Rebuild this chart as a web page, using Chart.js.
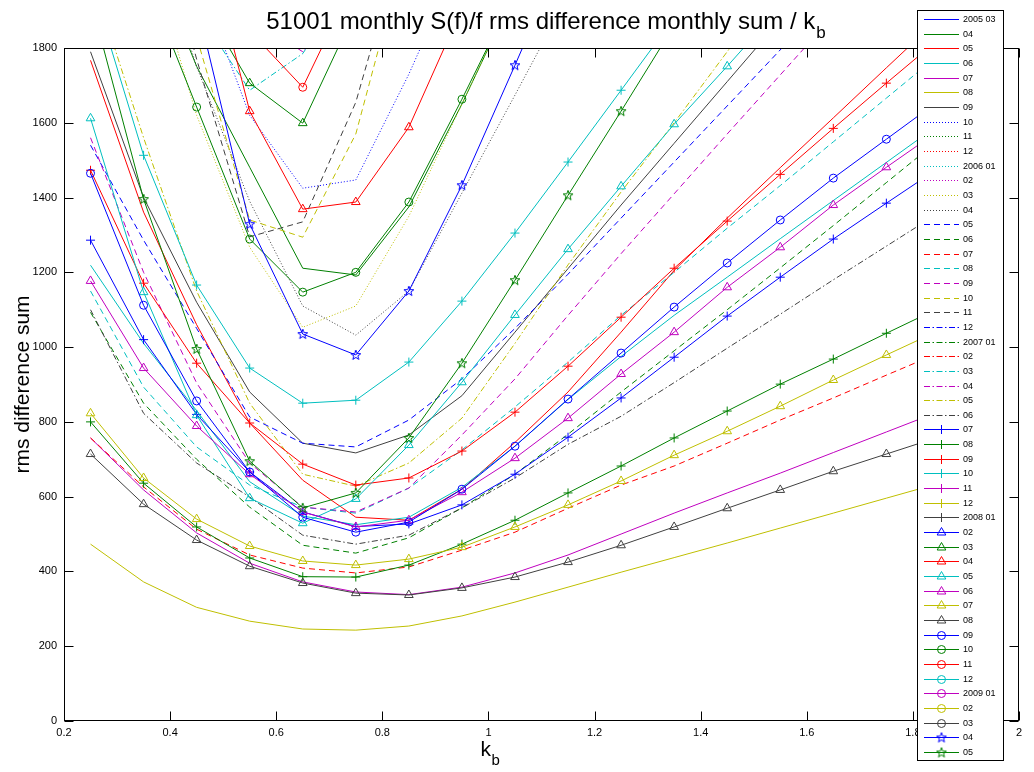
<!DOCTYPE html>
<html><head><meta charset="utf-8">
<script src="https://cdn.jsdelivr.net/npm/chart.js@4/dist/chart.umd.min.js"></script>
<style>html,body{margin:0;padding:0;background:#fff}#wrap{width:1034px;height:772px}</style>
</head><body><div id="wrap"><canvas id="c" width="1034" height="772"></canvas></div>
<script>
// ---- data ----
const kb = [0.25,0.35,0.45,0.55,0.65,0.75,0.85,0.95,1.05,1.15,1.25,1.35,1.45,1.55,1.65,1.75,1.85,1.95];
const xTicks = [0.2,0.4,0.6,0.8,1,1.2,1.4,1.6,1.8,2];
const yTicks = [0,200,400,600,800,1000,1200,1400,1600,1800];
const legendLabels = ['2005 03','04','05','06','07','08','09','10','11','12',
 '2006 01','02','03','04','05','06','07','08','09','10','11','12',
 '2007 01','02','03','04','05','06','07','08','09','10','11','12',
 '2008 01','02','03','04','05','06','07','08','09','10','11','12',
 '2009 01','02','03','04','05'];

const s2005_03 = [4800,4000,3300,2700,2300,2100,2150,2400,2700,3000,3300,3600,3900,4200,4500,4800,5100,5400];
const s2005_04 = [2700,2100,1751,1481,1211,1193,1375,1650,1950,2250,2550,2850,3150,3450,3750,4050,4350,4650];
const s2005_05 = [1767,1361,1060,797,644,545,537,620,745,880,1040,1205,1345,1480,1613,1747,1880,2010];
const s2005_06 = [1219,1010,830,640,548,525,545,625,735,860,975,1085,1187,1290,1392,1494,1596,1698];
const s2005_07 = [757,618,503,422,372,345,338,358,396,444,500,556,610,663,718,773,828,882];
const s2005_08 = [473,372,304,267,246,243,254,281,318,358,398,437,476,516,556,596,636,676];
const s2005_09 = [1790,1400,1120,880,743,717,765,870,1040,1210,1380,1545,1710,1875,2040,2200,2360,2520];
const s2005_10 = [3000,2500,2000,1620,1425,1447,1730,2050,2400,2750,3100,3450,3800,4150,4500,4850,5200,5550];
const s2005_11 = [5200,4300,3500,2800,2400,2300,2500,2900,3300,3700,4100,4500,4900,5300,5700,6100,6500,6900];
const s2005_12 = [5600,4700,3800,3100,2600,2450,2650,3050,3500,3950,4400,4850,5300,5750,6200,6650,7100,7550];
const s2006_01 = [5000,4100,3300,2700,2250,2150,2350,2750,3150,3550,3950,4350,4750,5150,5550,5950,6350,6750];
const s2006_02 = [5400,4500,3700,3000,2500,2350,2550,2950,3400,3850,4300,4750,5200,5650,6100,6550,7000,7450];
const s2006_03 = [2600,2100,1620,1267,1053,1110,1350,1650,1950,2250,2550,2850,3150,3450,3750,4050,4350,4650];
const s2006_04 = [2700,2200,1750,1390,1110,1032,1150,1412,1674,1940,2200,2460,2720,2980,3240,3500,3760,4020];
const s2006_05 = [1540,1286,1050,813,743,733,805,915,1050,1195,1345,1495,1645,1795,1945,2095,2245,2395];
const s2006_06 = [1093,850,700,572,470,449,490,570,660,767,880,990,1100,1212,1325,1440,1555,1670];
const s2006_07 = [757,626,513,444,409,396,412,457,505,569,631,682,743,805,864,925,985,1045];
const s2006_08 = [1150,893,733,631,572,556,623,725,840,960,1085,1200,1318,1432,1549,1666,1783,1900];
const s2006_09 = [1560,1200,904,690,572,559,623,765,915,1085,1250,1410,1570,1728,1886,2044,2200,2360];
const s2006_10 = [2800,2300,1830,1340,1294,1570,2100,2600,3100,3600,4100,4600,5100,5600,6100,6600,7100,7600];
const s2006_11 = [2900,2300,1770,1295,1335,1655,2150,2650,3150,3650,4150,4650,5150,5650,6150,6650,7150,7650];
const s2006_12 = [5800,4900,4000,3300,2800,2600,2750,3150,3600,4050,4500,4950,5400,5850,6300,6750,7200,7650];
const s2007_01 = [4600,3800,3100,2550,2150,2050,2250,2650,3050,3450,3850,4250,4650,5050,5450,5850,6250,6650];
const s2007_02 = [4900,4100,3400,2800,2350,2200,2400,2800,3250,3700,4150,4600,5050,5500,5950,6400,6850,7300];
const s2007_03 = [2400,2100,1900,1687,1785,2000,2300,2650,3000,3350,3700,4050,4400,4750,5100,5450,5800,6150];
const s2007_04 = [2600,2300,2000,1880,1790,1950,2300,2700,3100,3500,3900,4300,4700,5100,5500,5900,6300,6700];
const s2007_05 = [2000,1560,1150,850,660,628,690,810,1010,1220,1415,1600,1790,1980,2170,2360,2550,2740];
const s2007_06 = [1100,823,690,599,497,473,497,570,650,740,815,905,997,1088,1180,1270,1360,1450];
const s2007_07 = [1286,1020,820,666,559,520,527,578,660,759,864,973,1083,1187,1289,1385,1480,1575];
const s2007_08 = [800,636,519,436,386,385,417,473,537,610,682,757,829,901,968,1037,1105,1170];
const s2007_09 = [1473,1171,957,797,687,631,650,722,826,949,1080,1211,1337,1462,1585,1706,1825,1945];
const s2007_10 = [1980,1513,1166,944,850,858,960,1123,1305,1495,1687,1880,2070,2260,2450,2640,2830,3020];
const s2007_11 = [5300,4400,3600,2950,2450,2300,2500,2900,3350,3800,4250,4700,5150,5600,6050,6500,6950,7400];
const s2007_12 = [4700,3900,3200,2650,2250,2150,2350,2750,3150,3550,3950,4350,4750,5150,5550,5950,6350,6750];
const s2008_01 = [5500,4600,3800,3100,2600,2450,2650,3100,3550,4000,4450,4900,5350,5800,6250,6700,7150,7600];
const s2008_02 = [5100,4200,3450,2850,2400,2250,2450,2850,3300,3750,4200,4650,5100,5550,6000,6450,6900,7350];
const s2008_03 = [3000,2500,1950,1706,1599,1902,2200,2550,2900,3250,3600,3950,4300,4650,5000,5350,5700,6050];
const s2008_04 = [3000,2600,2190,1631,1369,1388,1588,1906,2250,2600,2950,3300,3650,4000,4350,4700,5050,5400];
const s2008_05 = [1612,1147,818,596,529,594,738,906,1086,1262,1430,1596,1751,1910,2070,2230,2390,2550];
const s2008_06 = [1177,944,789,660,559,519,537,612,703,810,928,1040,1160,1267,1380,1481,1580,1680];
const s2008_07 = [823,650,540,468,428,417,433,465,519,578,642,711,775,842,912,979,1045,1110];
const s2008_08 = [714,580,484,414,369,342,337,356,385,425,470,519,569,618,668,714,760,806];
const s2008_09 = [1465,1112,856,666,545,505,532,620,735,861,984,1107,1225,1340,1452,1556,1660,1765];
const s2008_10 = [2500,2000,1642,1289,1147,1200,1388,1663,1950,2250,2550,2850,3150,3450,3750,4050,4350,4650];
const s2008_11 = [3200,2600,2100,1846,1695,1990,2300,2650,3000,3350,3700,4050,4400,4750,5100,5450,5800,6150];
const s2008_12 = [4900,4000,3250,2650,2250,2150,2350,2750,3200,3650,4100,4550,5000,5450,5900,6350,6800,7250];
const s2009_01 = [5300,4400,3650,3000,2550,2400,2600,3000,3450,3900,4350,4800,5250,5700,6150,6600,7050,7500];
const s2009_02 = [4500,3700,3050,2500,2150,2050,2250,2650,3050,3450,3850,4250,4650,5050,5450,5850,6250,6650];
const s2009_03 = [5700,4800,3950,3250,2750,2550,2750,3150,3600,4050,4500,4950,5400,5850,6300,6750,7200,7650];
const s2009_04 = [2800,2300,1920,1329,1035,979,1150,1433,1754,2080,2400,2720,3040,3360,3680,4000,4320,4640];
const s2009_05 = [1930,1396,995,695,570,610,757,957,1179,1406,1631,1860,2090,2320,2550,2780,3010,3240];

const seriesValues = [s2005_03,s2005_04,s2005_05,s2005_06,s2005_07,s2005_08,s2005_09,s2005_10,s2005_11,s2005_12,
 s2006_01,s2006_02,s2006_03,s2006_04,s2006_05,s2006_06,s2006_07,s2006_08,s2006_09,s2006_10,s2006_11,s2006_12,
 s2007_01,s2007_02,s2007_03,s2007_04,s2007_05,s2007_06,s2007_07,s2007_08,s2007_09,s2007_10,s2007_11,s2007_12,
 s2008_01,s2008_02,s2008_03,s2008_04,s2008_05,s2008_06,s2008_07,s2008_08,s2008_09,s2008_10,s2008_11,s2008_12,
 s2009_01,s2009_02,s2009_03,s2009_04,s2009_05];

// ---- styles (MATLAB-like cycling) ----
const palette = ['#0000ff','#008000','#ff0000','#00bfbf','#bf00bf','#bfbf00','#404040'];
const FONT = '"Liberation Sans", Arial, Helvetica, sans-serif';

function makeStar(color){
  const cv = document.createElement('canvas');
  cv.width = 12; cv.height = 12;
  const c = cv.getContext('2d');
  c.strokeStyle = color; c.lineWidth = 1;
  c.beginPath();
  for (let k = 0; k < 10; k++) {
    const a = -Math.PI/2 + k*Math.PI/5;
    const r = (k % 2 === 0) ? 5.2 : 2.1;
    const px = 6 + r*Math.cos(a), py = 6.3 + r*Math.sin(a);
    if (k === 0) c.moveTo(px, py); else c.lineTo(px, py);
  }
  c.closePath(); c.stroke();
  return cv;
}

function styleFor(i){
  const color = palette[i % 7];
  const g = Math.floor(i / 7);
  const st = {color, dash: [], marker: null, radius: 0};
  if (g === 1) st.dash = [1,2];
  else if (g === 2) st.dash = [6,4];
  else if (g === 3) st.dash = [6,2.5,1.5,2.5];
  else if (g === 4) { st.marker = 'cross'; st.radius = 4.5; }
  else if (g === 5) { st.marker = 'triangle'; st.radius = 5; }
  else if (g === 6) { st.marker = 'circle'; st.radius = 4; }
  else if (g === 7) { st.marker = makeStar(color); st.radius = 5; }
  return st;
}

const N = seriesValues.length;
const styles = seriesValues.map((_, i) => styleFor(i));
const datasets = seriesValues.map((vals, i) => {
  const st = styles[i];
  return {
    label: legendLabels[i],
    data: vals.map((v, j) => ({x: kb[j], y: v})),
    borderColor: st.color,
    borderWidth: 1,
    borderDash: st.dash,
    pointStyle: st.marker || 'circle',
    pointRadius: st.marker ? st.radius : 0,
    pointBorderColor: st.color,
    pointBackgroundColor: 'rgba(0,0,0,0)',
    pointBorderWidth: 1,
    tension: 0,
    fill: false,
    order: N - i
  };
});

// ---- overlay plugin: box, ticks, title, axis labels, legend ----
const overlay = {
  id: 'overlay',
  afterDraw(chart){
    const ctx = chart.ctx, a = chart.chartArea;
    const xs = chart.scales.x, ys = chart.scales.y;
    ctx.save();
    ctx.setLineDash([]);
    ctx.strokeStyle = '#000'; ctx.lineWidth = 1;
    const L = Math.round(a.left)+0.5, R = Math.round(a.right)-0.5, T = Math.round(a.top)+0.5, B = Math.round(a.bottom)-0.5;
    ctx.strokeRect(L, T, R-L, B-T);
    const tl = 9;
    ctx.beginPath();
    xTicks.forEach(v => {
      const px = Math.round(xs.getPixelForValue(v)) + 0.5;
      ctx.moveTo(px, B); ctx.lineTo(px, B - tl);
      ctx.moveTo(px, T); ctx.lineTo(px, T + tl);
    });
    yTicks.forEach(v => {
      const py = Math.round(ys.getPixelForValue(v)) + 0.5;
      ctx.moveTo(L, py); ctx.lineTo(L + tl, py);
      ctx.moveTo(R, py); ctx.lineTo(R - tl, py);
    });
    ctx.stroke();

    // title with subscript
    ctx.fillStyle = '#000';
    ctx.textBaseline = 'alphabetic';
    const tMain = '51001 monthly S(f)/f rms difference monthly sum / k';
    ctx.font = '24px ' + FONT;
    const w1 = ctx.measureText(tMain).width;
    ctx.font = '17px ' + FONT;
    const w2 = ctx.measureText('b').width;
    const cx = (a.left + a.right) / 2 + 4;
    let sx = cx - (w1 + w2) / 2;
    ctx.font = '24px ' + FONT;
    ctx.textAlign = 'left';
    ctx.fillText(tMain, sx, 29);
    ctx.font = '17px ' + FONT;
    ctx.fillText('b', sx + w1 + 1, 38);

    // x label k_b
    ctx.font = '21px ' + FONT;
    const kw = ctx.measureText('k').width;
    const xl = xs.getPixelForValue(1) - 8;
    ctx.fillText('k', xl, 756);
    ctx.font = '15px ' + FONT;
    ctx.fillText('b', xl + kw + 0.5, 765);

    // y label
    ctx.save();
    ctx.translate(29, (a.top + a.bottom) / 2);
    ctx.rotate(-Math.PI / 2);
    ctx.font = '21px ' + FONT;
    ctx.textAlign = 'center';
    ctx.fillText('rms difference sum', 0, 0);
    ctx.restore();

    // legend box
    const lx = 917.5, ly = 10.5, lw = 86, lh = 750;
    ctx.fillStyle = '#fff';
    ctx.fillRect(lx, ly, lw, lh);
    ctx.strokeStyle = '#000';
    ctx.strokeRect(lx, ly, lw, lh);
    ctx.font = '9px ' + FONT;
    ctx.textBaseline = 'middle';
    ctx.textAlign = 'left';
    chart.data.datasets.forEach((ds, i) => {
      const st = styles[i];
      const y = Math.round(19 + i * 14.66) + 0.5;
      ctx.strokeStyle = st.color;
      ctx.lineWidth = 1;
      ctx.setLineDash(st.dash);
      ctx.beginPath();
      ctx.moveTo(924, y); ctx.lineTo(959, y);
      ctx.stroke();
      ctx.setLineDash([]);
      if (st.marker) {
        ctx.fillStyle = 'rgba(0,0,0,0)';
        ctx.strokeStyle = st.color;
        Chart.helpers.drawPoint(ctx, {pointStyle: st.marker, radius: st.radius, rotation: 0, borderWidth: 1}, 941.5, y);
      }
      ctx.fillStyle = '#000';
      ctx.fillText(ds.label, 963, y + 0.5);
    });
    ctx.restore();
  }
};

const tickFont = {family: FONT, size: 11};
new Chart(document.getElementById('c'), {
  type: 'line',
  data: {datasets},
  options: {
    responsive: false,
    animation: false,
    devicePixelRatio: 1,
    layout: {padding: {top: 48, right: 15, left: 0, bottom: 0}},
    plugins: {legend: {display: false}, tooltip: {enabled: false}, title: {display: false}},
    elements: {line: {tension: 0}},
    scales: {
      x: {
        type: 'linear', min: 0.2, max: 2,
        afterBuildTicks: s => { s.ticks = xTicks.map(v => ({value: v})); },
        afterFit: s => { s.height = 51; },
        grid: {display: false, drawTicks: false}, border: {display: false},
        ticks: {font: tickFont, color: '#000', padding: 5, maxRotation: 0,
          callback: v => String(Number(v.toFixed(1)))}
      },
      y: {
        type: 'linear', min: 0, max: 1800,
        afterBuildTicks: s => { s.ticks = yTicks.map(v => ({value: v})); },
        afterFit: s => { s.width = 64; },
        grid: {display: false, drawTicks: false}, border: {display: false},
        ticks: {font: tickFont, color: '#000', padding: 7, callback: v => String(v)}
      }
    }
  },
  plugins: [overlay]
});
</script>
</body></html>
